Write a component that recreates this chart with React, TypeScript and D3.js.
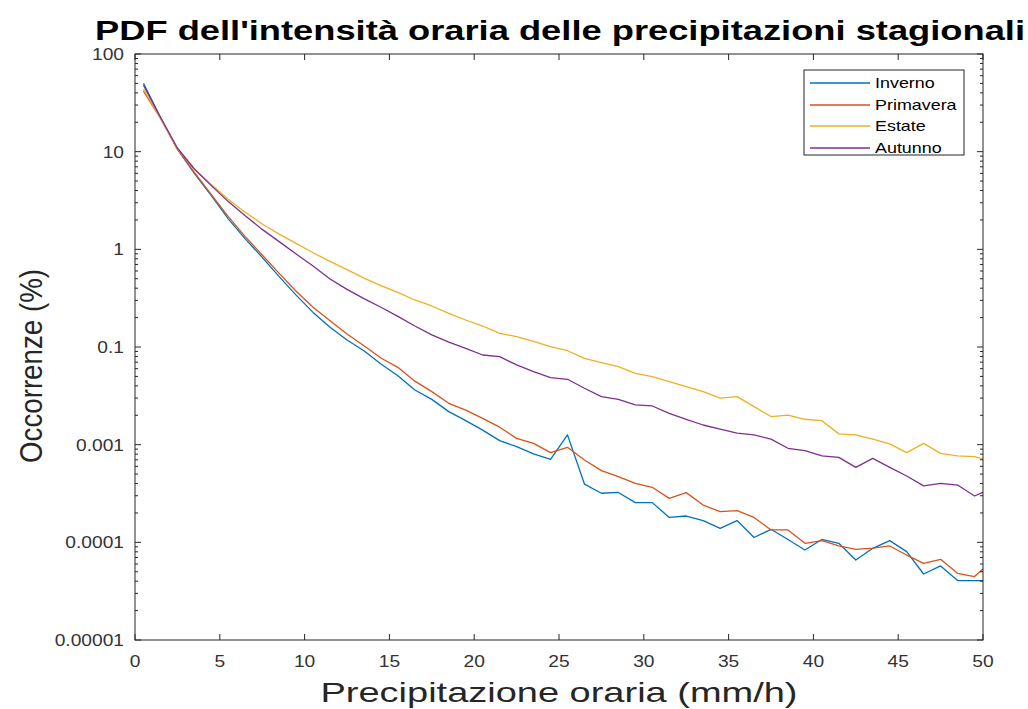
import React from "react";
import * as d3 from "d3";

const xValues = [0.5, 1.5, 2.5, 3.5, 4.5, 5.5, 6.5, 7.5, 8.5, 9.5, 10.5, 11.5, 12.5, 13.5, 14.5, 15.5, 16.5, 17.5, 18.5, 19.5, 20.5, 21.5, 22.5, 23.5, 24.5, 25.5, 26.5, 27.5, 28.5, 29.5, 30.5, 31.5, 32.5, 33.5, 34.5, 35.5, 36.5, 37.5, 38.5, 39.5, 40.5, 41.5, 42.5, 43.5, 44.5, 45.5, 46.5, 47.5, 48.5, 49.5, 50.5];

const inverno = [50, 22.5, 10.6, 6.0, 3.54, 2.05, 1.28, 0.828, 0.525, 0.34, 0.226, 0.159, 0.118, 0.0916, 0.067, 0.0508, 0.0363, 0.0291, 0.0218, 0.0176, 0.0141, 0.011, 0.00955, 0.00804, 0.00708, 0.0126, 0.00395, 0.00318, 0.00324, 0.00255, 0.00255, 0.0018, 0.00186, 0.00167, 0.00139, 0.00167, 0.00112, 0.00136, 0.00107, 0.000836, 0.00107, 0.000977, 0.000659, 0.000869, 0.00104, 0.000804, 0.000474, 0.000573, 0.000406, 0.000406, 0.000406];

const primavera = [41.7, 22, 10.6, 6.14, 3.63, 2.16, 1.35, 0.875, 0.568, 0.372, 0.255, 0.186, 0.136, 0.103, 0.0771, 0.0619, 0.0447, 0.0349, 0.0265, 0.0226, 0.0186, 0.0151, 0.0116, 0.0103, 0.00828, 0.0094, 0.00697, 0.00542, 0.00471, 0.00402, 0.00366, 0.00282, 0.00323, 0.00241, 0.00206, 0.00211, 0.0018, 0.00134, 0.00134, 0.000977, 0.00104, 0.000918, 0.000849, 0.000871, 0.000918, 0.000741, 0.00061, 0.00067, 0.000482, 0.000446, 0.00064];

const estate = [43.7, 22.1, 10.7, 6.65, 4.62, 3.24, 2.4, 1.82, 1.43, 1.15, 0.923, 0.753, 0.619, 0.508, 0.425, 0.363, 0.303, 0.263, 0.221, 0.189, 0.164, 0.138, 0.128, 0.114, 0.101, 0.0916, 0.0766, 0.0692, 0.063, 0.0537, 0.0497, 0.0442, 0.0393, 0.0349, 0.0299, 0.031, 0.0245, 0.0194, 0.0201, 0.0182, 0.0176, 0.0129, 0.0126, 0.0114, 0.0102, 0.00828, 0.0103, 0.00815, 0.00766, 0.00753, 0.0067];

const autunno = [47.9, 22.5, 10.9, 6.65, 4.49, 3.08, 2.21, 1.6, 1.2, 0.895, 0.675, 0.497, 0.389, 0.313, 0.255, 0.206, 0.164, 0.133, 0.112, 0.0968, 0.0828, 0.0796, 0.0655, 0.056, 0.0485, 0.0467, 0.0378, 0.031, 0.0291, 0.0255, 0.0249, 0.0209, 0.0182, 0.0159, 0.0144, 0.0131, 0.0126, 0.0114, 0.00918, 0.00869, 0.00766, 0.00741, 0.00586, 0.00724, 0.00586, 0.00478, 0.00378, 0.00402, 0.00386, 0.00298, 0.00357];

const seriesNames = ["Inverno", "Primavera", "Estate", "Autunno"];
const seriesColors = ["#0072BD", "#D95319", "#EDB120", "#7E2F8E"];

const xTicks = [0, 5, 10, 15, 20, 25, 30, 35, 40, 45, 50];
const yTickValues = [100, 10, 1, 0.1, 0.01, 0.001, 0.0001];
const yTickLabels = ["100", "10", "1", "0.1", "0.001", "0.0001", "0.00001"];

const title = "PDF dell'intensità oraria delle precipitazioni stagionali";
const xLabel = "Precipitazione oraria (mm/h)";
const yLabel = "Occorrenze (%)";

export default function App() {
  const W = 1028, H = 709;
  const left = 135, right = 983, top = 54, bottom = 640;
  const x = d3.scaleLinear().domain([0, 50]).range([left, right]);
  const y = d3.scaleLog().domain([0.0001, 100]).range([bottom, top]);
  const seriesData = [inverno, primavera, estate, autunno];
  const line = d3.line<number>().x((_, i) => x(xValues[i])).y((d) => y(d));
  const axisColor = "#262626";
  const font = "'Liberation Sans', Arial, Helvetica, sans-serif";
  const sx = 1.2;

  const minor: number[] = [];
  for (let e = -4; e < 2; e++) {
    for (let m = 2; m <= 9; m++) minor.push(m * Math.pow(10, e));
  }

  const legendRows = [83, 105, 126, 148];

  return (
    <svg width={W} height={H} style={{ position: "absolute", left: 0, top: 0, background: "#fff" }} fontFamily={font}>
      <defs>
        <clipPath id="plotclip">
          <rect x={left} y={top} width={right - left} height={bottom - top} />
        </clipPath>
      </defs>
      <rect x={0} y={0} width={W} height={H} fill="#fff" />
      <text x={560} y={40} textAnchor="middle" fontSize={27} fontWeight="bold" fill="#000" textLength={930} lengthAdjust="spacingAndGlyphs">{title}</text>

      {/* series */}
      <g clipPath="url(#plotclip)">
        {seriesData.map((s, i) => (
          <path key={i} d={line(s) || ""} fill="none" stroke={seriesColors[i]} strokeWidth={1.3} strokeLinejoin="round" />
        ))}
      </g>

      {/* axes box */}
      <rect x={left} y={top} width={right - left} height={bottom - top} fill="none" stroke={axisColor} strokeWidth={1} />

      {/* x ticks */}
      {xTicks.map((t) => (
        <g key={"xt" + t}>
          <line x1={x(t)} x2={x(t)} y1={bottom} y2={bottom - 6} stroke={axisColor} />
          <line x1={x(t)} x2={x(t)} y1={top} y2={top + 6} stroke={axisColor} />
          <text transform={`translate(${x(t)},${667}) scale(${sx},1)`} textAnchor="middle" fontSize={16} fill="#333">{String(t)}</text>
        </g>
      ))}

      {/* y ticks */}
      {yTickValues.map((v, i) => (
        <g key={"yt" + i}>
          <line x1={left} x2={left + 6} y1={y(v)} y2={y(v)} stroke={axisColor} />
          <line x1={right} x2={right - 6} y1={y(v)} y2={y(v)} stroke={axisColor} />
          <text transform={`translate(${124},${y(v) + 6}) scale(${sx},1)`} textAnchor="end" fontSize={16} fill="#333">{yTickLabels[i]}</text>
        </g>
      ))}
      {minor.map((v, i) => (
        <g key={"ym" + i}>
          <line x1={left} x2={left + 3} y1={y(v)} y2={y(v)} stroke={axisColor} />
          <line x1={right} x2={right - 3} y1={y(v)} y2={y(v)} stroke={axisColor} />
        </g>
      ))}

      {/* axis labels */}
      <text x={559} y={702} textAnchor="middle" fontSize={28} fill="#262626" textLength={477} lengthAdjust="spacingAndGlyphs">{xLabel}</text>
      <text transform={`translate(42,366) rotate(-90)`} textAnchor="middle" fontSize={31} fill="#262626" textLength={194} lengthAdjust="spacingAndGlyphs">{yLabel}</text>

      {/* legend */}
      <rect x={804} y={70} width={160} height={85} fill="#fff" stroke={axisColor} strokeWidth={1} />
      {seriesNames.map((n, i) => (
        <g key={"lg" + i}>
          <line x1={810} x2={870} y1={legendRows[i]} y2={legendRows[i]} stroke={seriesColors[i]} strokeWidth={1.3} />
          <text transform={`translate(875,${legendRows[i] + 5}) scale(1.28,1)`} fontSize={14} fill="#000">{n}</text>
        </g>
      ))}
    </svg>
  );
}
